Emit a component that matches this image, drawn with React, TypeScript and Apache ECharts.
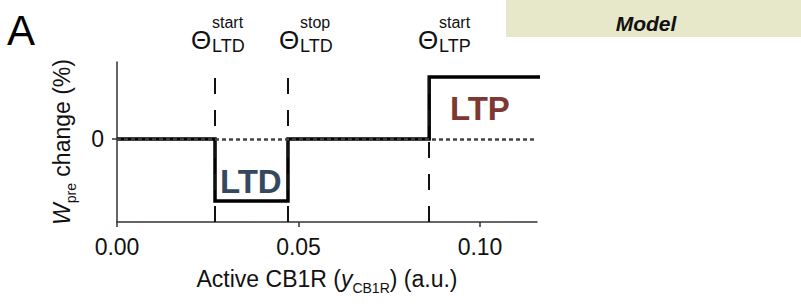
import React, { useEffect, useRef } from "react";
import * as echarts from "echarts";

// ---- data ----
const stepX = [0, 0.027, 0.027, 0.0471, 0.0471, 0.086, 0.086, 0.1193];
const stepY = [0, 0, -1, -1, 0, 0, 1, 1];
const thresholdX = [0.027, 0.0471, 0.086];
const thetaSup = ["start", "stop", "start"];
const thetaSub = ["LTD", "LTD", "LTP"];
const xTicks = [0, 0.05, 0.1];
const yTicks = [0];

const FONT = "'Liberation Sans', Arial, Helvetica, sans-serif";

export default function App() {
  const ref = useRef<HTMLDivElement>(null);

  useEffect(() => {
    if (!ref.current) return;
    const chart = echarts.init(ref.current, undefined, { renderer: "svg" });

    const rich = {
      a: { fontSize: 23, lineHeight: 23, verticalAlign: "top", color: "#111", fontFamily: FONT },
      i: { fontSize: 23, lineHeight: 23, verticalAlign: "top", fontStyle: "italic", color: "#111", fontFamily: FONT },
      s: { fontSize: 14, lineHeight: 14, verticalAlign: "top", padding: [14, 0, 0, 0], color: "#111", fontFamily: FONT },
    };

    const thetaLeft = [191, 279, 418];
    const supLeft = [212, 300, 439];
    const graphics: any[] = [
      { type: "rect", shape: { x: 506, y: 0, width: 295, height: 37 }, style: { fill: "#e7e7ca" }, silent: true },
      {
        type: "text", x: 646, y: 23.5,
        style: { text: "Model", font: `italic bold 21px ${FONT}`, fill: "#111", align: "center", verticalAlign: "middle", textAlign: "center", textVerticalAlign: "middle" },
      },
      {
        type: "text", x: 7, y: 30,
        style: { text: "A", font: `normal 42px ${FONT}`, fill: "#000", align: "left", verticalAlign: "middle", textAlign: "left", textVerticalAlign: "middle" },
      },
      {
        type: "text", x: 220, y: 181.5,
        style: { text: "LTD", font: `bold 33px ${FONT}`, fill: "#34495e", align: "left", verticalAlign: "middle", textAlign: "left", textVerticalAlign: "middle" },
      },
      {
        type: "text", x: 450, y: 108.5,
        style: { text: "LTP", font: `bold 33px ${FONT}`, fill: "#7d3832", align: "left", verticalAlign: "middle", textAlign: "left", textVerticalAlign: "middle" },
      },
    ];
    thresholdX.forEach((_, k) => {
      graphics.push({
        type: "text", x: thetaLeft[k], y: 40,
        style: { text: "Θ", font: `normal 26px ${FONT}`, fill: "#111", align: "left", verticalAlign: "middle", textAlign: "left", textVerticalAlign: "middle" },
      });
      graphics.push({
        type: "text", x: supLeft[k], y: 22.5,
        style: { text: thetaSup[k], font: `normal 16px ${FONT}`, fill: "#111", align: "left", verticalAlign: "middle", textAlign: "left", textVerticalAlign: "middle" },
      });
      graphics.push({
        type: "text", x: supLeft[k], y: 46,
        style: { text: thetaSub[k], font: `normal 18px ${FONT}`, fill: "#111", align: "left", verticalAlign: "middle", textAlign: "left", textVerticalAlign: "middle" },
      });
    });

    const yMin = -1.34;
    const yMax = 1.24;
    const dashTop = 0.98;

    const markData: any[] = thresholdX.map((x) => [
      { coord: [x, yMin], lineStyle: { color: "#111", width: 2, type: [16, 16] } },
      { coord: [x, dashTop] },
    ]);
    markData.push({ yAxis: 0, lineStyle: { color: "#444", width: 2.5, type: [4, 3] } });

    chart.setOption({
      animation: false,
      backgroundColor: "#fff",
      textStyle: { fontFamily: FONT },
      grid: { left: 117, right: 264, top: 62, bottom: 84, containLabel: false, outerBoundsMode: "none" },
      xAxis: {
        type: "value",
        min: 0,
        max: 0.1157,
        axisLine: { show: true, onZero: false, lineStyle: { color: "#333", width: 1.5 } },
        axisTick: { show: true, length: 5, customValues: xTicks, lineStyle: { color: "#333", width: 1.5 } },
        axisLabel: {
          customValues: xTicks,
          formatter: (v: number) => v.toFixed(2),
          fontSize: 23, color: "#111", margin: 13, fontFamily: FONT,
        },
        splitLine: { show: false },
        name: "{a|Active CB1R (}{i|y}{s|CB1R}{a|) (a.u.)}",
        nameLocation: "middle",
        nameGap: 45,
        nameTextStyle: { rich },
      },
      yAxis: {
        type: "value",
        min: yMin,
        max: yMax,
        axisLine: { show: true, onZero: false, lineStyle: { color: "#333", width: 1.5 } },
        axisTick: { show: true, length: 5, customValues: yTicks, lineStyle: { color: "#333", width: 1.5 } },
        axisLabel: { customValues: yTicks, fontSize: 23, color: "#111", margin: 13, fontFamily: FONT },
        splitLine: { show: false },
        name: "{i|W}{s|pre}{a| change (%)}",
        nameLocation: "middle",
        nameRotate: 90,
        nameGap: 44,
        nameTextStyle: { rich },
      },
      series: [
        {
          type: "line",
          data: stepX.map((x, k) => [x, stepY[k]]),
          showSymbol: false,
          symbol: "none",
          clip: false,
          silent: true,
          lineStyle: { color: "#000", width: 3.5, join: "miter", cap: "butt" },
          markLine: {
            silent: true,
            symbol: ["none", "none"],
            label: { show: false },
            emphasis: { disabled: true },
            data: markData,
          },
        },
      ],
      graphic: graphics,
    });

    return () => chart.dispose();
  }, []);

  return (
    <div
      ref={ref}
      style={{ position: "fixed", left: 0, top: 0, width: 801, height: 306, background: "#fff" }}
    />
  );
}
